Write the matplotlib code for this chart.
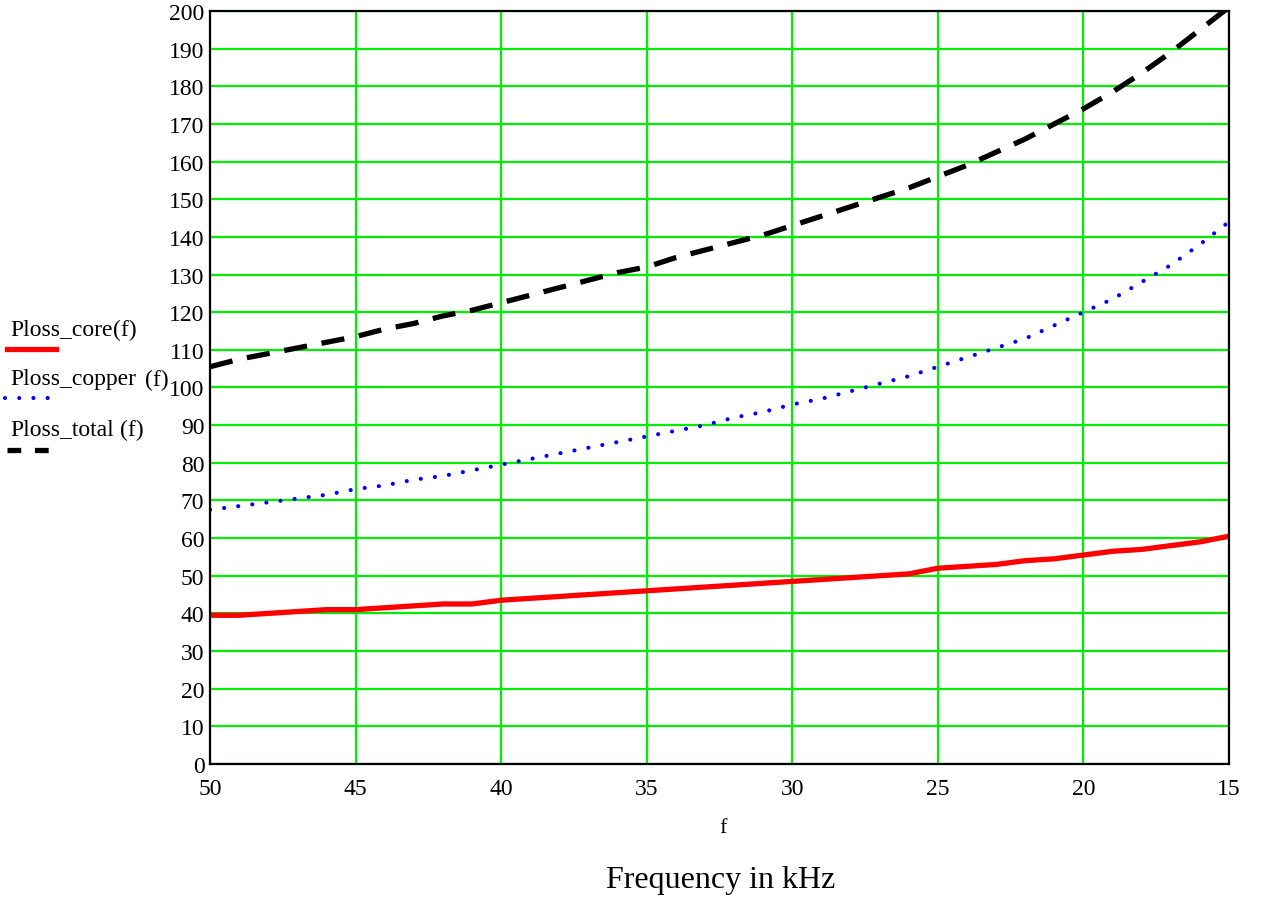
import numpy as np
import matplotlib.pyplot as plt

# frequency in kHz, from 50 down to 15
freq = list(range(50, 14, -1))

ploss_core = [39.5, 39.5, 40, 40.5, 41, 41, 41.5, 42, 42.5, 42.5,
              43.5, 44, 44.5, 45, 45.5, 46, 46.5, 47, 47.5, 48,
              48.5, 49, 49.5, 50, 50.5, 52, 52.5, 53, 54, 54.5,
              55.5, 56.5, 57, 58, 59, 60.5]

ploss_copper = [67.5, 68.5, 69.5, 70.5, 71.5, 73, 74, 75.5, 76.5, 78,
                79.5, 81, 82.5, 84, 85.5, 87, 88.5, 90, 92, 93.5,
                95.5, 97, 99, 101, 103, 105.5, 108, 110.5, 113, 116.5,
                120, 123.5, 128, 132.5, 138, 144]

ploss_total = [105.5, 107.5, 109, 110.5, 112, 113.5, 115.5, 117, 119, 120.5,
               122.5, 124.5, 126.5, 128.5, 130.5, 132, 134.5, 136.5, 138.5, 140.5,
               143, 145.5, 148, 150.5, 153, 156, 159, 162.5, 166, 170,
               174, 178.5, 183.5, 189, 195, 201]

xticks = [50, 45, 40, 35, 30, 25, 20, 15]
yticks = list(range(0, 201, 10))

plt.rcParams['font.family'] = ['Liberation Serif', 'DejaVu Serif']

fig = plt.figure(figsize=(12.62, 9.03), dpi=100)
ax = fig.add_axes([0.1664, 0.1528, 0.8075, 0.834])

ax.plot(freq, ploss_core, color='#ff0000', lw=3.8, solid_capstyle='butt')
ax.plot(freq, ploss_copper, color='#0000ff', lw=3.0, linestyle=(0, (0.01, 3.4)),
        dash_capstyle='round')
ax.plot(freq, ploss_total, color='black', lw=3.8, linestyle=(0, (4.4, 2.8)),
        dash_capstyle='butt')

ax.set_xlim(50, 15)
ax.set_ylim(0, 200)
ax.set_xticks(xticks)
ax.set_yticks(yticks)
ax.set_xticklabels([str(t) for t in xticks])
ax.set_yticklabels([str(t) for t in yticks])
ax.tick_params(length=0, labelsize=17, pad=4)
ax.tick_params(axis='x', pad=10)
ax.grid(True, color='#00ee00', lw=1.6)
ax.set_axisbelow(True)
for s in ax.spines.values():
    s.set_color('black')
    s.set_linewidth(1.6)

fig.text(0.573, 0.083, 'f', fontsize=16, ha='center', va='center')
fig.text(0.571, 0.025, 'Frequency in kHz', fontsize=23, ha='center', va='center')

# legend on the left, drawn like the original
def fy(py):
    return 1 - py / 903

def fx(px):
    return px / 1262

fig.text(fx(10), fy(330), 'Ploss_core', fontsize=17, va='center')
fig.text(fx(113), fy(330), '(f)', fontsize=17, va='center')
fig.text(fx(10), fy(380), 'Ploss_copper', fontsize=17, va='center')
fig.text(fx(145), fy(380), '(f)', fontsize=17, va='center')
fig.text(fx(10), fy(430), 'Ploss_total', fontsize=17, va='center')
fig.text(fx(120), fy(430), '(f)', fontsize=17, va='center')

fig.add_artist(plt.Line2D([fx(7), fx(56)], [fy(350), fy(350)], color='#ff0000', lw=3.8))
fig.add_artist(plt.Line2D([fx(5), fx(52)], [fy(399), fy(399)], color='#0000ff', lw=3.0,
                          linestyle=(0, (0.01, 3.4)), dash_capstyle='round'))
fig.add_artist(plt.Line2D([fx(7), fx(56)], [fy(451), fy(451)], color='black', lw=3.8,
                          linestyle=(0, (2.6, 2.6))))

fig.savefig('out.png', dpi=100)
